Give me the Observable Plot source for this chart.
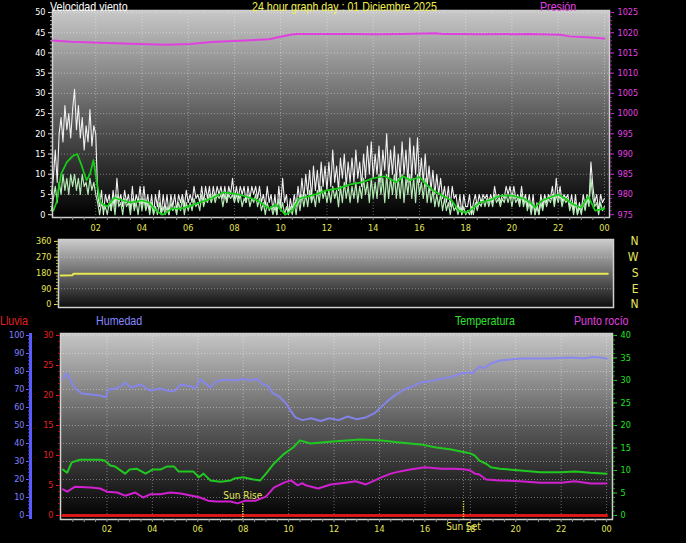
<!DOCTYPE html>
<html><head><meta charset="utf-8">
<script src="https://cdn.jsdelivr.net/npm/d3@7"></script>
<script src="https://cdn.jsdelivr.net/npm/@observablehq/plot@0.6"></script>
<style>
html,body{margin:0;padding:0;background:#000;}
#wrap{position:relative;width:686px;height:543px;background:#000;overflow:hidden;}
#wrap svg{position:absolute;left:0;top:0;}
.lbl{position:absolute;font-family:"Liberation Sans",Arial,sans-serif;font-size:13px;line-height:14px;white-space:nowrap;transform:scaleX(0.82);transform-origin:0 0;}
</style></head><body><div id="wrap"></div>
<script>
// ---------------- DATA ----------------
const hourTicks = [2,4,6,8,10,12,14,16,18,20,22,24];
// wind gust (km/h), 5-minute samples starting 00:05 (12 per hour)
const gustValues = [
 5,9,16,8,20,24,18,27,21,25,19,26,
 31,21,27,19,24,16,22,18,26,17,22,20,
 5,2,6,0,5,3,5,1,6,2,9,3,
 5,2,6,3,5,1,7,2,5,3,7,2,
 7,2,5,1,5,0,5,2,6,0,5,1,
 5,0,5,2,5,1,5,3,5,2,6,3,
 5,3,7,4,5,3,7,3,7,4,7,3,
 7,4,7,5,7,4,7,3,7,5,9,4,
 7,4,7,5,7,3,7,4,7,5,7,4,
 7,3,5,2,7,3,5,1,5,0,7,2,
 9,3,5,0,4,1,5,2,7,3,9,4,
 10,5,11,4,12,6,11,5,13,7,12,6,
 13,7,16,8,12,6,14,9,15,7,13,8,
 14,8,16,9,13,7,15,9,17,10,18,9,
 15,10,17,8,16,11,20,9,16,10,17,8,
 15,9,18,10,16,8,19,9,17,10,19,8,
 14,8,15,7,12,6,11,5,10,5,9,4,
 7,3,7,2,7,4,5,1,5,0,5,2,
 2,5,0,3,5,2,5,3,5,4,5,3,
 5,3,7,4,5,3,5,4,7,5,7,4,
 7,4,5,3,7,3,5,2,5,1,5,0,
 3,0,5,2,5,3,5,4,7,3,9,4,
 7,3,5,4,5,2,5,1,5,0,3,1,
 5,2,5,3,13,7,3,5,1,5,3,4
];
// wind speed (km/h), same 5-minute samples
const speedValues = [
 1,4,7,3,8,5,10,6,9,5,10,7,
 10,6,9,5,10,7,8,5,9,6,8,5,
 3,0,3,1,2,0,3,1,4,0,5,2,
 3,0,4,2,3,0,4,1,3,0,4,1,
 4,1,3,0,3,0,2,0,3,0,2,0,
 2,0,3,1,2,0,3,1,4,0,3,1,
 3,1,4,2,3,1,5,2,4,3,5,3,
 5,3,5,4,5,2,5,3,5,4,5,3,
 5,3,5,2,4,3,5,2,4,3,5,2,
 4,1,3,0,3,1,2,0,2,0,4,1,
 3,0,2,0,2,0,3,0,4,1,5,2,
 5,2,6,3,5,2,6,3,7,4,6,3,
 6,3,7,4,6,2,7,3,8,4,7,3,
 7,4,8,3,7,4,9,5,8,3,9,4,
 8,4,10,5,9,3,10,4,9,5,10,4,
 9,4,10,3,9,5,10,4,9,3,10,5,
 8,4,9,3,7,3,6,2,5,2,5,1,
 4,1,3,0,3,1,2,0,2,0,2,0,
 1,0,2,0,3,1,3,2,4,2,4,2,
 4,2,5,3,4,2,4,3,5,3,5,2,
 5,3,4,2,5,2,4,1,3,0,3,0,
 2,0,3,1,4,2,4,3,5,2,5,3,
 5,2,4,3,4,1,3,0,3,0,2,0,
 3,1,4,2,9,4,2,3,0,3,1,2
];
// average wind speed
const avgHours = [0.17,0.3,0.5,0.75,1.0,1.2,1.4,1.6,1.75,1.9,2.05,2.2,2.5,2.8,3.2,3.5,4.0,4.3,4.6,4.9,5.3,5.7,6.0,6.5,7.0,7.5,8.0,8.5,9.0,9.5,9.8,10.2,10.5,10.8,11.2,11.6,12.0,12.5,13.0,13.5,14.0,14.5,15.0,15.3,15.6,16.0,16.3,16.6,17.0,17.4,17.7,18.0,18.3,18.6,19.0,19.5,20.0,20.5,20.8,21.0,21.3,21.6,22.0,22.3,22.6,23.0,23.3,23.6,24.0];
const avgValues = [1,3,10,13,14.5,15,12,8.5,10,13.5,8,3,2,4.2,3.5,3,3.5,3,1,0,1.5,1.5,2,3,4,5.5,5.2,4.5,3.5,1.5,2.5,0,1,4,4.5,5.2,6,6.5,7.5,8,9,9.5,8,9.5,8.5,9.3,7.5,6,4.7,3.5,1,0.5,1.5,3,3.5,4.7,4.7,4,3,1.8,3.5,4.2,5,4,2.7,1.7,4.5,1,1.5];
// pressure (hPa)
const pressHours = [0.13,0.9,2.2,3.5,5.0,6.1,7.0,8.25,9.5,10.0,10.4,10.7,13,14.2,15.2,16.7,17.0,17.8,18.6,20.8,22.1,22.5,23.4,24];
const pressValues = [1018.1,1017.8,1017.5,1017.3,1017.0,1017.2,1017.7,1018.0,1018.4,1019.0,1019.5,1019.7,1019.7,1019.6,1019.7,1019.9,1019.7,1019.7,1019.6,1019.7,1019.5,1019.1,1018.8,1018.6];
// wind direction (deg)
const dirHours = [0.1,0.6,0.65,24.0];
const dirValues = [166,167,175,175];
const dirLetters = ["N","W","S","E","N"];
const dirLetterDeg = [360,270,180,90,0];
// humidity (%)
const humHours = [0.07,0.25,0.4,0.6,0.9,1.3,1.7,1.95,2.05,2.4,2.6,2.8,3.05,3.5,3.9,4.35,4.8,5.0,5.25,5.7,5.9,6.1,6.35,6.55,6.8,7.2,7.65,8.0,8.3,8.6,8.85,9.1,9.3,9.6,9.9,10.1,10.3,10.6,11.0,11.4,11.8,12.2,12.6,13.0,13.4,13.8,14.3,14.7,15.1,15.5,15.8,16.2,16.7,17.1,17.6,18.0,18.1,18.4,18.6,18.9,19.3,20.2,21.5,22.0,22.4,23.0,23.4,23.7,24.0];
const humValues = [76,79,75,70.6,67.8,67.2,66.7,65.6,70,70.6,71.7,73.9,71.1,72.8,69.4,70.6,68.9,69.4,72.8,71.7,70.6,75.6,73.3,71.1,74.4,75.6,75,76,75,76,73,72,68,66,62,58,54.5,53,54,52.5,54,53,55,53.5,54.5,57,63,67,70,72,74,74.5,76,76.7,79,79.4,79,82.8,81.7,84.4,86.1,87.2,87.2,87.5,87.8,87.2,88,87.8,87.2];
// temperature (°C)
const tempHours = [0.07,0.25,0.45,0.8,1.7,1.9,2.15,2.35,2.8,3.0,3.3,3.7,4.0,4.35,4.65,4.95,5.15,5.8,6.05,6.25,6.55,7.0,7.45,7.6,8.0,8.45,8.75,9.05,9.35,9.8,10.2,10.5,10.95,11.8,13.15,14.0,14.9,15.8,16.5,17.1,17.8,18.0,18.2,18.4,18.7,18.9,19.3,20.2,21.1,22.0,22.6,23.3,24.0];
const tempValues = [10.2,9.5,11.8,12.4,12.4,12.2,11.1,10.9,9.3,10.2,10.4,9.3,10.2,10.2,10.9,10.9,9.8,9.8,8.5,9.3,7.8,7.5,7.8,8.2,8.5,8.0,7.8,9.6,11.5,13.7,15.1,16.7,16.0,16.4,16.9,16.7,16.2,15.8,15.1,14.7,14.0,13.8,13.3,12.2,11.5,10.7,10.4,10.0,9.6,9.6,9.8,9.5,9.3];
// dew point (°C)
const dewHours = [0.07,0.25,0.6,1.3,1.7,2.0,2.45,2.8,3.25,3.6,3.9,4.35,4.8,5.25,5.9,6.1,6.45,6.8,7.45,7.75,8.1,8.55,9.0,9.35,9.8,10.1,10.4,10.6,10.75,11.3,11.85,12.5,12.95,13.4,13.8,14.05,14.5,14.9,15.35,16.0,16.7,17.35,17.8,18.0,18.2,18.4,18.7,19.3,20.2,21.1,22.0,22.6,23.3,24.0];
const dewValues = [5.8,5.3,6.4,6.2,6.0,5.3,5.1,4.4,5.1,4.0,4.7,4.7,5.1,4.9,4.2,4.0,3.3,3.1,3.1,2.7,3.3,3.3,4.2,6.2,7.3,7.8,6.7,7.2,6.7,6.0,6.9,7.3,7.6,6.9,7.8,8.4,9.3,9.8,10.2,10.7,10.4,10.4,10.2,10.0,9.3,9.1,8.0,7.8,7.6,7.3,7.3,7.6,7.1,7.1];
// rain (mm)
const rainHours = [0.05,24.0];
const rainValues = [0,0];
// sun events
const sunNames = ["Sun Rise","Sun Set"];
const sunHours = [7.98,17.7];

// ---------------- BUILD ----------------
const zip = (hs, vs) => hs.map((h,i) => ({h, v: vs[i]}));
const five = (vs) => vs.map((v,i) => ({h:(i+1)/12, v}));
const gust = five(gustValues), speed = five(speedValues);
const avg = zip(avgHours, avgValues), press = zip(pressHours, pressValues);
const dir = zip(dirHours, dirValues), hum = zip(humHours, humValues);
const temp = zip(tempHours, tempValues), dew = zip(dewHours, dewValues);
const rain = zip(rainHours, rainValues);
const sun = sunNames.map((n,i) => ({name:n, h:sunHours[i]}));
const dirLab = dirLetters.map((t,i) => ({t, d:dirLetterDeg[i]}));
const fmtHour = h => String(h % 24).padStart(2,"0");
const plain = d => String(d);
const blank = () => "";

const W = 686, H = 543;
const FONT = '"DejaVu Sans Condensed","Liberation Sans Narrow",sans-serif';
const base = {width:W, height:H, style:{background:"transparent", fontFamily:FONT, fontSize:"9px", overflow:"visible"}};
const grid = {stroke:"#ffffff", strokeOpacity:0.38, strokeDasharray:"1,2", strokeWidth:1};
const YEL = "#e6e65a";

const topM = {marginLeft:52, marginRight:77, marginTop:10, marginBottom:326};
const topXd = [0.13, 24.22];
const midM = {marginLeft:58, marginRight:73, marginTop:239, marginBottom:236};
const botM = {marginLeft:60, marginRight:74, marginTop:333, marginBottom:24};
const botXd = [-0.044, 24.26];

const plots = [];

// A: wind
plots.push(Plot.plot({...base, ...topM,
  x:{domain:topXd, label:null}, y:{domain:[-0.7,50.5], label:null},
  marks:[
    Plot.frame({fill:"url(#gTop)"}),
    Plot.gridY(d3.range(5,51,5), grid),
    Plot.gridX(hourTicks, grid),
    Plot.line(gust, {x:"h", y:"v", stroke:"#f0f0f0", strokeWidth:1.1}),
    Plot.line(speed, {x:"h", y:"v", stroke:"#b4eab4", strokeWidth:1.2}),
    Plot.line(avg, {x:"h", y:"v", stroke:"#14d014", strokeWidth:1.7}),
    Plot.frame({stroke:"#d0d0d0", strokeWidth:1.5}),
    Plot.axisY(d3.range(0,51,5), {anchor:"left", tickSize:4, tickPadding:3, stroke:"#e0e0e0", fill:"#ffffff", tickFormat:plain}),
    Plot.axisY(d3.range(0,51,1), {anchor:"left", tickSize:2, stroke:"#b0b0b0", tickFormat:blank}),
    Plot.axisX(d3.range(0.5,24.01,0.5), {anchor:"bottom", tickSize:3, stroke:"#909090", tickFormat:blank}),
    Plot.axisX(hourTicks, {anchor:"bottom", tickSize:0, tickPadding:7, fill:YEL, tickFormat:fmtHour})
  ]}));

// B: pressure overlay
plots.push(Plot.plot({...base, ...topM,
  x:{domain:topXd, axis:null}, y:{domain:[974.3,1025.5], label:null},
  marks:[
    Plot.line(press, {x:"h", y:"v", stroke:"#e040e0", strokeWidth:2}),
    Plot.axisY(d3.range(975,1026,5), {anchor:"right", tickSize:4, tickPadding:4, stroke:"#d030d0", fill:"#e040e0", tickFormat:plain}),
    Plot.axisY(d3.range(975,1026,1), {anchor:"right", tickSize:2, stroke:"#a020a0", tickFormat:blank})
  ]}));

// C: wind direction
plots.push(Plot.plot({...base, ...midM,
  x:{domain:[0,24.25], axis:null}, y:{domain:[-17,371], label:null},
  marks:[
    Plot.frame({fill:"url(#gMid)"}),
    Plot.gridY([90,270], grid),
    Plot.line(dir, {x:"h", y:"v", stroke:"#e8e850", strokeWidth:2}),
    Plot.frame({stroke:"#d0d0d0", strokeWidth:1.5}),
    Plot.axisY([0,90,180,270,360], {anchor:"left", tickSize:4, tickPadding:3, stroke:YEL, fill:YEL, tickFormat:plain}),
    Plot.axisY(d3.range(0,361,18), {anchor:"left", tickSize:2, stroke:"#b0b040", tickFormat:blank}),
    Plot.text(dirLab, {y:"d", text:"t", frameAnchor:"right", dx:25, fill:YEL, fontSize:12})
  ]}));

// E: bottom base + rain
plots.push(Plot.plot({...base, ...botM,
  x:{domain:botXd, label:null}, y:{domain:[-0.67,30.33], label:null},
  marks:[
    Plot.frame({fill:"url(#gBot)"}),
    Plot.gridX(hourTicks, grid),
    Plot.gridX(sunHours.slice(1), grid),
    Plot.frame({stroke:"#d0d0d0", strokeWidth:1.5}),
    Plot.line(rain, {x:"h", y:"v", stroke:"#d81818", strokeWidth:3}),
    Plot.ruleX(sun, {x:"h", stroke:"#f0f040", strokeDasharray:"1,1.5", strokeWidth:1.5, insetTop:168}),
    Plot.text(sun.slice(0,1), {x:"h", text:"name", frameAnchor:"bottom", dy:-21, fill:YEL, fontSize:10}),
    Plot.text(sun.slice(1), {x:"h", text:"name", frameAnchor:"bottom", dy:10, fill:YEL, fontSize:10}),
    Plot.axisY(d3.range(0,31,5), {anchor:"left", tickSize:4, tickPadding:3, stroke:"#e02020", fill:"#e82020", tickFormat:plain}),
    Plot.axisY(d3.range(0,31,1), {anchor:"left", tickSize:2, stroke:"#b01010", tickFormat:blank}),
    Plot.axisX(d3.range(0.5,24.01,0.5), {anchor:"bottom", tickSize:3, stroke:"#909090", tickFormat:blank}),
    Plot.axisX(hourTicks, {anchor:"bottom", tickSize:0, tickPadding:6, fill:YEL, tickFormat:fmtHour})
  ]}));

// D1: humidity line + grid
plots.push(Plot.plot({...base, ...botM,
  x:{domain:botXd, axis:null}, y:{domain:[-2.2,101.1], axis:null},
  marks:[
    Plot.gridY(d3.range(10,101,10), grid),
    Plot.line(hum, {x:"h", y:"v", stroke:"#8585f5", strokeWidth:2, strokeOpacity:0.9})
  ]}));

// D2: humidity axis (far left)
plots.push(Plot.plot({...base, marginLeft:30, marginRight:650, marginTop:333, marginBottom:24,
  x:{domain:[0,1], axis:null}, y:{domain:[-2.2,101.1], label:null},
  marks:[
    Plot.ruleX([0], {stroke:"#5a5aff", strokeWidth:3}),
    Plot.axisY(d3.range(0,101,10), {anchor:"left", tickSize:4, tickPadding:2, stroke:"#6a6aff", fill:"#8080ff", tickFormat:plain}),
    Plot.axisY(d3.range(0,101,2), {anchor:"left", tickSize:2, stroke:"#5050e0", tickFormat:blank})
  ]}));

// F: temperature / dew point
plots.push(Plot.plot({...base, ...botM,
  x:{domain:botXd, axis:null}, y:{domain:[-0.89,40.44], label:null},
  marks:[
    Plot.line(temp, {x:"h", y:"v", stroke:"#20c820", strokeWidth:2}),
    Plot.line(dew, {x:"h", y:"v", stroke:"#d020d0", strokeWidth:2}),
    Plot.axisY(d3.range(0,41,5), {anchor:"right", tickSize:4, tickPadding:4, stroke:"#20d020", fill:"#20e020", tickFormat:plain}),
    Plot.axisY(d3.range(0,41,1), {anchor:"right", tickSize:2, stroke:"#10a010", tickFormat:blank})
  ]}));

const wrap = document.getElementById("wrap");
const ns = "http://www.w3.org/2000/svg";
function grad(svg, id, stops) {
  const defs = document.createElementNS(ns, "defs");
  const lg = document.createElementNS(ns, "linearGradient");
  lg.setAttribute("id", id); lg.setAttribute("x1","0"); lg.setAttribute("y1","0"); lg.setAttribute("x2","0"); lg.setAttribute("y2","1");
  for (const [o,c] of stops) {
    const s = document.createElementNS(ns, "stop");
    s.setAttribute("offset", o); s.setAttribute("stop-color", c);
    lg.appendChild(s);
  }
  defs.appendChild(lg);
  svg.insertBefore(defs, svg.firstChild);
}
grad(plots[0], "gTop", [[0,"#c8c8c8"],[0.5,"#5e5e5e"],[1,"#000000"]]);
grad(plots[2], "gMid", [[0,"#cccccc"],[0.5,"#6a6a6a"],[1,"#0c0c0c"]]);
grad(plots[3], "gBot", [[0,"#c6c6c6"],[0.5,"#5a5a5a"],[1,"#000000"]]);
for (const p of plots) wrap.appendChild(p);

// titles / legends
const labels = [
  ["Velocidad viento", 50, 0, "#ffffff"],
  ["24 hour graph day : 01 Diciembre 2025", 252, 0, "#f0f050"],
  ["Presión", 540, 0, "#e040e0"],
  ["Lluvia", 0, 314, "#e02020"],
  ["Humedad", 96, 314, "#8888ff"],
  ["Temperatura", 455, 314, "#30e030"],
  ["Punto rocío", 574, 314, "#e040e0"]
];
for (const [t,x,y,c] of labels) {
  const d = document.createElement("div");
  d.className = "lbl"; d.textContent = t;
  d.style.left = x + "px"; d.style.top = y + "px"; d.style.color = c;
  wrap.appendChild(d);
}
</script></body></html>
